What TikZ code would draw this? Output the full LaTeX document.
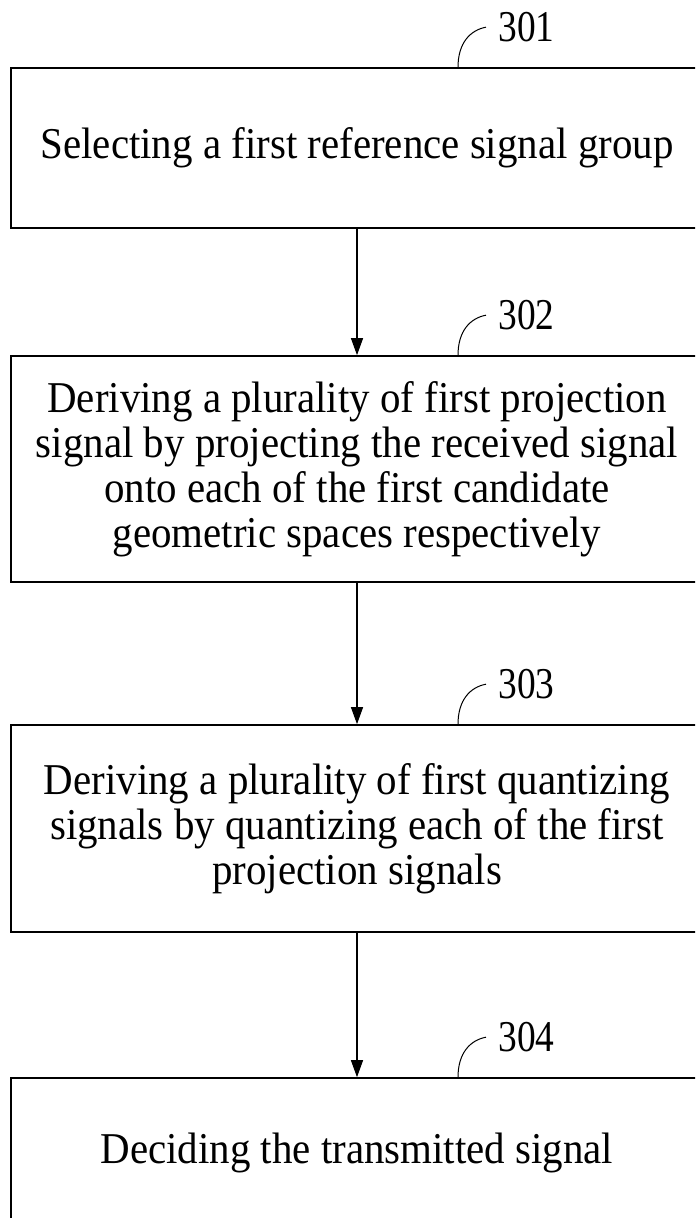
\documentclass[tikz,border=0pt]{standalone}
\usepackage{fontspec}
\setmainfont[FakeStretch=0.93]{Liberation Serif}
\newfontfamily\tagfont[FakeStretch=0.85]{Liberation Serif}
\usetikzlibrary{arrows.meta}
\usetikzlibrary{calc}

\begin{document}
\begin{tikzpicture}[x=0.5pt, y=0.5pt,
        stepbox/.style={draw, line width=0.8pt, minimum width=346pt, inner sep=0pt, align=center, font=\fontsize{22}{22.5}\selectfont},
        flow/.style={-{Triangle[length=8.5pt, width=6pt]}, line width=0.6pt},
        lead/.style={line width=0.5pt},
        tag/.style={anchor=west, inner sep=6pt, font=\tagfont\fontsize{22}{22.5}\selectfont}]
        \useasboundingbox (0,0) rectangle (695,1218);
        \clip (0,0) rectangle (695,1218);
        \node[stepbox, minimum height=80pt] (b1) at (357,1070) {Selecting a first reference signal group};
        \node[stepbox, minimum height=113pt] (b2) at (357,749) {Deriving a plurality of first projection\\ signal by projecting the received signal\\ onto each of the first candidate\\ geometric spaces respectively};
        \node[stepbox, minimum height=103.5pt] (b3) at (357,389.5) {Deriving a plurality of first quantizing\\ signals by quantizing each of the first\\ projection signals};
        \node[stepbox, minimum height=75pt] (b4) at (357,65) {Deciding the transmitted signal};
        \draw[flow] (b1) -- (b2);
        \draw[flow] (b2) -- (b3);
        \draw[flow] (b3) -- (b4);
        % reference numerals
        \foreach \b/\t in {b1/301, b2/302, b3/303, b4/304} {
            \node[tag] (t\t) at ($(\b.north)+(129,40)$) {\t};
            \draw[lead] ($(\b.north)+(101,0)$) .. controls +(0,24) and +(-16,-3) .. (t\t.west);
        }
    \end{tikzpicture}
\end{document}
